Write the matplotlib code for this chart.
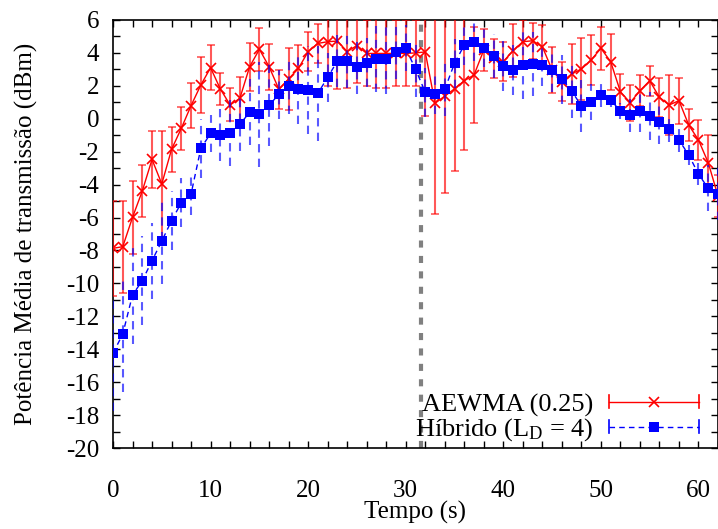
import numpy as np
import matplotlib
matplotlib.use("Agg")
import matplotlib.pyplot as plt
from matplotlib.lines import Line2D
from matplotlib.legend_handler import HandlerLine2D
from matplotlib.ticker import MultipleLocator

# ---------------- data ----------------
tempo = list(range(0, 63))

aewma_mean = [-7.87, -7.77, -5.99, -4.39, -2.47, -3.96, -1.86, -0.58, 0.80, 2.05,
              3.10, 1.81, 0.84, 1.24, 3.16, 4.22, 3.16, 1.79, 2.42, 3.06,
              4.08, 4.58, 4.68, 4.72, 4.08, 4.45, 3.97, 3.97, 3.97, 3.97,
              3.97, 4.00, 4.06, 0.94, 1.38, 1.82, 2.31, 2.66, 4.18, 3.67,
              3.47, 4.14, 4.68, 4.74, 4.38, 2.96, 2.25, 2.72, 3.02, 3.57,
              4.28, 3.47, 1.64, 0.98, 1.70, 2.31, 1.30, 0.84, 1.10, -0.38,
              -1.29, -2.67, -4.69]
aewma_err = [2.9, 2.8, 2.2, 1.6, 1.75, 3.2, 1.35, 1.3, 1.35, 1.7,
             1.37, 1.0, 1.0, 1.3, 1.45, 1.3, 1.4, 1.2, 1.9, 1.4,
             1.2, 1.2, 2.7, 2.9, 2.2, 2.3, 2.0, 2.1, 2.1, 2.0,
             2.0, 2.0, 3.9, 6.7, 5.9, 5.0, 4.2, 2.9, 1.3, 1.2,
             1.2, 1.6, 1.3, 1.1, 1.3, 1.4, 1.2, 1.8, 1.9, 1.5,
             1.3, 1.7, 1.05, 1.1, 0.95, 0.9, 1.2, 1.8, 1.4, 0.97,
             1.2, 1.7, 1.3]

hibrido_mean = [-14.25, -13.08, -10.70, -9.84, -8.62, -7.43, -6.19, -5.10, -4.57, -1.80,
                -0.89, -0.99, -0.85, -0.34, 0.39, 0.27, 0.82, 1.49, 1.99, 1.81,
                1.75, 1.55, 2.52, 3.51, 3.51, 3.13, 3.41, 3.61, 3.61, 4.04,
                4.28, 3.02, 1.61, 1.50, 1.79, 3.37, 4.48, 4.68, 4.28, 3.81,
                3.21, 2.96, 3.27, 3.33, 3.27, 2.96, 2.40, 1.69, 0.78, 1.00,
                1.42, 1.14, 0.47, 0.21, 0.47, 0.17, -0.22, -0.64, -1.29, -2.20,
                -3.36, -4.23, -4.57]
hibrido_err = [3.5, 3.5, 3.0, 2.7, 2.3, 2.6, 1.8, 1.5, 1.3, 1.8,
               1.1, 1.6, 2.0, 1.6, 2.0, 3.2, 2.5, 1.5, 1.7, 2.1,
               2.7, 2.9, 1.5, 1.6, 1.65, 1.6, 1.5, 2.0, 2.1, 1.6,
               1.4, 1.7, 1.5, 1.2, 1.6, 1.5, 1.2, 1.2, 1.15, 1.35,
               1.5, 1.5, 2.05, 1.95, 1.3, 1.35, 1.5, 1.65, 1.6, 1.1,
               0.7, 0.4, 0.5, 1.0, 1.25, 1.45, 1.3, 0.75, 0.75, 0.6,
               0.65, 1.4, 1.6]

evento_t = 31.6

label_aewma = "AEWMA (0.25)"
label_hib = r"Híbrido (L$_\mathrm{D}$ = 4)"
xlabel = "Tempo (s)"
ylabel = "Potência Média de transmissão (dBm)"

# ---------------- style ----------------
plt.rcParams["font.family"] = ["Liberation Serif", "DejaVu Serif"]
plt.rcParams["mathtext.fontset"] = "custom"
plt.rcParams["mathtext.rm"] = "Liberation Serif"
plt.rcParams["mathtext.it"] = "Liberation Serif:italic"
plt.rcParams["axes.unicode_minus"] = False
FS = 18

fig = plt.figure(figsize=(7.18, 5.29), dpi=100)
ax = fig.add_axes([113/718, 1 - 448/529, 605/718, 428/529])

red = "#ff0000"
blue = "#0000ff"
dash = (0, (4, 3))

# AEWMA
eb1 = ax.errorbar(tempo, aewma_mean, yerr=aewma_err, color=red, lw=1.0,
                  marker="x", ms=7, mew=1.2, ecolor=red, elinewidth=1.5,
                  capsize=3, capthick=1.5, zorder=3)
for c in eb1[1]:
    c.set_alpha(0.65)
for c in eb1[2]:
    c.set_alpha(0.65)

# Hibrido
eb2 = ax.errorbar(tempo, hibrido_mean, yerr=hibrido_err, color=blue, lw=1.0,
                  linestyle=dash, marker="s", ms=7, mew=0, ecolor=blue,
                  elinewidth=1.5, capsize=3, capthick=1.5, zorder=4)
for c in eb2[1]:
    c.set_alpha(0.65)
for c in eb2[2]:
    c.set_alpha(0.65)
    c.set_linestyle((0, (4, 3)))

ax.axvline(evento_t, color="#808080", lw=3, linestyle=(0, (1.7, 2.0)), zorder=2)

ax.set_xlim(0, 62)
ax.set_ylim(-20, 6)
ax.xaxis.set_major_locator(MultipleLocator(10))
ax.xaxis.set_minor_locator(MultipleLocator(2))
ax.yaxis.set_major_locator(MultipleLocator(2))
ax.yaxis.set_minor_locator(MultipleLocator(1))
ax.tick_params(which="both", direction="in", top=True, right=True,
               length=5, width=1.0, labelsize=FS)
ax.tick_params(axis="x", pad=23)
ax.tick_params(axis="y", pad=10)
for s in ax.spines.values():
    s.set_linewidth(1.2)

ax.set_xlabel(xlabel, fontsize=FS, labelpad=-1)
ax.set_ylabel(ylabel, fontsize=FS, labelpad=20)


class CapHandler(HandlerLine2D):
    def create_artists(self, legend, orig_handle, xdescent, ydescent,
                       width, height, fontsize, trans):
        arts = super().create_artists(legend, orig_handle, xdescent, ydescent,
                                      width, height, fontsize, trans)
        yc = (height - ydescent) / 2
        h = height * 0.35
        for x in (-xdescent, -xdescent + width):
            cap = Line2D([x, x], [yc - h, yc + h], color=orig_handle.get_color(),
                         lw=1.2)
            cap.set_transform(trans)
            arts.append(cap)
        return arts


h1 = Line2D([], [], color=red, lw=1.0, marker="x", ms=7, mew=1.2)
h2 = Line2D([], [], color=blue, lw=1.0, linestyle=dash, marker="s", ms=7, mew=0)
ax.legend([h1, h2], [label_aewma, label_hib], loc="lower right",
          bbox_to_anchor=(0.99, -0.02), frameon=False, fontsize=19,
          markerfirst=False, numpoints=1, handlelength=3.4, handletextpad=0.6,
          labelspacing=0.0, borderpad=0.0,
          handler_map={h1: CapHandler(), h2: CapHandler()})

fig.savefig("out.png", dpi=100)
